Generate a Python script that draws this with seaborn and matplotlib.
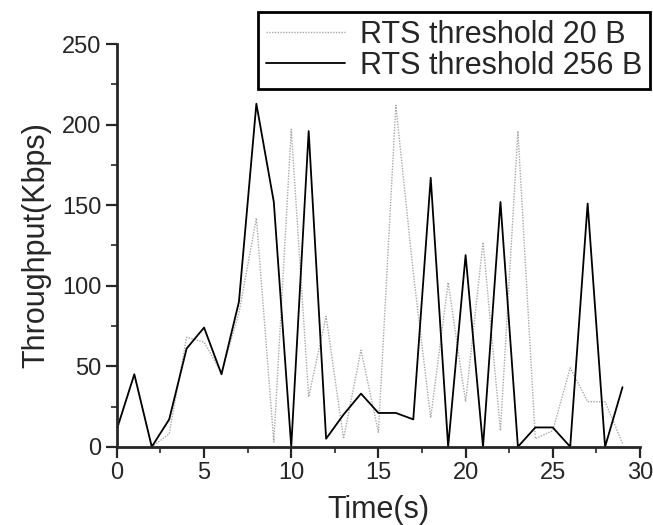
import numpy as np
import pandas as pd
import matplotlib
matplotlib.use("Agg")
import matplotlib.pyplot as plt
import seaborn as sns
from matplotlib.ticker import MultipleLocator

# tempo (s)
tempo = list(range(30))

# vazao com RTS threshold 20 B (linha pontilhada)
vazao_20 = [10, 45, 0, 8, 68, 65, 46, 83, 142, 3,
            197, 31, 81, 5, 60, 9, 212, 108, 18, 102,
            28, 127, 10, 196, 5, 10, 49, 28, 28, 2]

# vazao com RTS threshold 256 B (linha cheia)
vazao_256 = [11, 45, 0, 17, 61, 74, 45, 90, 213, 152,
             0, 196, 5, 20, 33, 21, 21, 17, 167, 0,
             119, 0, 152, 0, 12, 12, 0, 151, 0, 37]

rotulos = ["RTS threshold 20 B", "RTS threshold 256 B"]

df = pd.DataFrame({"tempo": tempo, "v20": vazao_20, "v256": vazao_256})

sns.set_style("ticks")
plt.rcParams['font.family'] = ['Liberation Sans', 'DejaVu Sans']

fig = plt.figure(figsize=(6.53, 5.25), dpi=100)
ax = fig.add_axes([0.179, 0.149, 0.801, 0.767])

sns.lineplot(data=df, x="tempo", y="v20", ax=ax, color="#a8a8a8",
             linewidth=1.0, linestyle=(0, (1, 1)), label=rotulos[0])
sns.lineplot(data=df, x="tempo", y="v256", ax=ax, color="black",
             linewidth=1.3, label=rotulos[1])

ax.set_xlim(0, 30)
ax.set_ylim(0, 250)
ax.xaxis.set_major_locator(MultipleLocator(5))
ax.xaxis.set_minor_locator(MultipleLocator(2.5))
ax.yaxis.set_major_locator(MultipleLocator(50))
ax.yaxis.set_minor_locator(MultipleLocator(25))

for lado in ["top", "right"]:
    ax.spines[lado].set_visible(False)
for lado in ["left", "bottom"]:
    ax.spines[lado].set_linewidth(2)

ax.tick_params(which="major", direction="out", length=8, width=1.6,
               labelsize=17, pad=3)
ax.tick_params(which="minor", direction="out", length=4, width=1.2)

ax.set_xlabel("Time(s)", fontsize=22, labelpad=8)
ax.set_ylabel("Throughput(Kbps)", fontsize=22, labelpad=8)

leg = ax.legend(loc="upper left", bbox_to_anchor=(0.27, 1.08),
                fontsize=22, handlelength=2.6, handletextpad=0.5,
                labelspacing=0.05, borderpad=0.25, borderaxespad=0,
                frameon=True, fancybox=False, framealpha=1)
leg.get_frame().set_edgecolor("black")
leg.get_frame().set_linewidth(2)

fig.savefig("out.png", dpi=100)
